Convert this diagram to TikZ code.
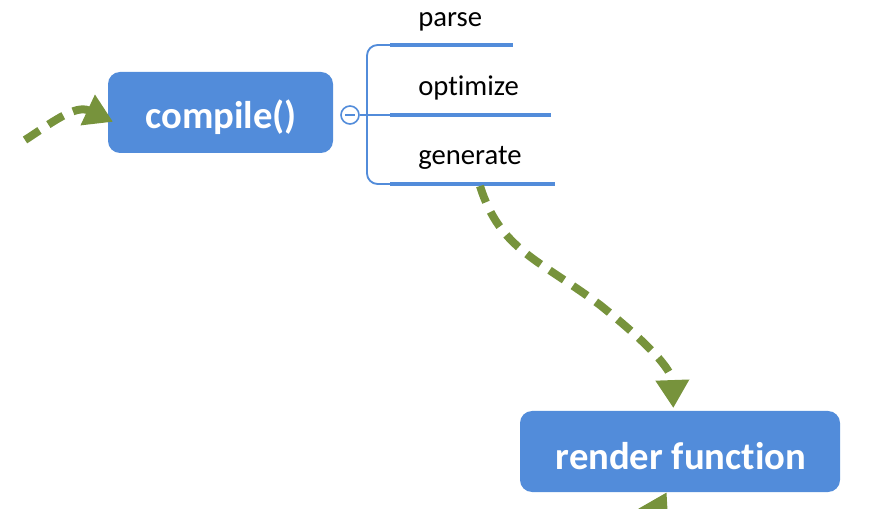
\documentclass[tikz,border=0pt]{standalone}
\usepackage{fontspec}
\setmainfont{Carlito}[Ligatures={NoCommon}]
\usetikzlibrary{arrows.meta}
\definecolor{boxblue}{RGB}{82,140,218}
\definecolor{flowgreen}{RGB}{119,147,60}
\tikzset{
  stage/.style={fill=boxblue, rounded corners=9pt, inner sep=0pt},
  stagetext/.style={text=white, inner sep=0pt, font=\fontsize{29}{34}\selectfont\bfseries},
  leaf/.style={anchor=base west, inner sep=0pt, font=\fontsize{21.5}{26}\selectfont},
  bar/.style={draw=boxblue, line width=3pt},
  branch/.style={draw=boxblue, line width=1.4pt},
  toggle/.style={circle, draw=boxblue, line width=1.2pt, fill=white, minimum size=13.5pt, inner sep=0pt},
  flow/.style={draw=flowgreen, line width=6pt, dash pattern=on 13pt off 8pt,
    -{Triangle[length=21pt,width=24pt]}}
}
\begin{document}
\begin{tikzpicture}[x=0.75pt,y=0.75pt,yscale=-1,xscale=1]
\useasboundingbox (0,0) rectangle (871,509);
\clip (0,0) rectangle (871,509);

%Rounded Rect
\node[stage, minimum width=168.75pt, minimum height=60.75pt] (compile) at (220.5,112.5) {};
\node[stagetext] (compile-text) at (221,117) {compile()};
%Rounded Rect
\node[stage, minimum width=240pt, minimum height=60.75pt] (render) at (680,451.5) {};
\node[stagetext] (render-text) at (681,456) {render funct{}ion};

%Collapse toggle
\node[toggle] (toggle) at (350,115) {};
\draw[branch, line width=1pt] ([xshift=-3.5pt]toggle.center) -- ([xshift=3.5pt]toggle.center);

%Branch bars
\coordinate (parse-bar) at (390,45);
\coordinate (opt-bar) at (390,115);
\coordinate (gen-bar) at (390,184);
\draw[bar] (parse-bar) -- ++(123,0);
\draw[bar] (opt-bar) -- ++(161,0);
\draw[bar] (gen-bar) -- ++(165,0);
\draw[branch, rounded corners=8pt] (parse-bar) -| (367,115) |- (gen-bar);
\draw[branch] (toggle) -- (opt-bar);

% Text Node
\node[leaf] (parse) at (418,27) {parse};
% Text Node
\node[leaf] (optimize) at (418,96) {opt{}imize};
% Text Node
\node[leaf] (generate) at (418,165) {generate};

%Dashed flows
\coordinate (from-left) at (25,140);
\coordinate (gen-out) at (480,186);
\coordinate (from-below) at (630,560);
\draw[flow] (from-left) .. controls (50,124) and (75,104) .. ([xshift=4pt,yshift=7pt]compile.west);
\draw[flow] (gen-out) .. controls (500,250) and (540,260) .. (600,305) .. controls (650,345) and (672,370) .. ([xshift=-5pt,yshift=-2pt]render.north);
\draw[flow] (from-below) -- ([xshift=-10pt]render.south);

\end{tikzpicture}
\end{document}
